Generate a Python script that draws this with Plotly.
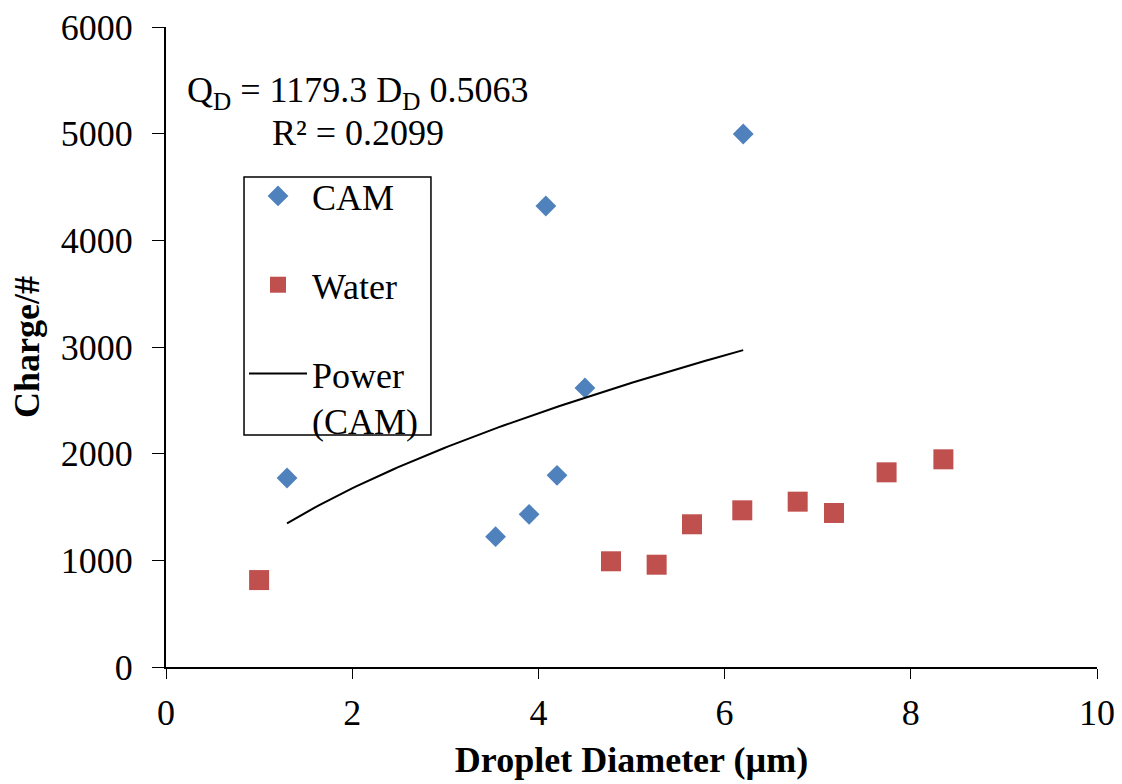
import numpy as np
import plotly.graph_objects as go

cam_x = [1.3, 3.54, 3.9, 4.08, 4.2, 4.5, 6.2]
cam_y = [1772, 1222, 1431, 4322, 1797, 2616, 4997]
water_x = [1.0, 4.78, 5.27, 5.65, 6.19, 6.785, 7.175, 7.74, 8.35]
water_y = [815, 991, 959, 1338, 1469, 1550, 1444, 1825, 1947]

fit_a = 1179.3
fit_b = 0.5063
fit_r2 = 0.2099

x_ticks = [0, 2, 4, 6, 8, 10]
y_ticks = [0, 1000, 2000, 3000, 4000, 5000, 6000]

trend_x = np.linspace(min(cam_x), max(cam_x), 100)
trend_y = fit_a * trend_x ** fit_b

font_family = "Liberation Serif"

fig = go.Figure()
fig.add_trace(go.Scatter(
    x=cam_x, y=cam_y, mode="markers", name="CAM",
    marker=dict(symbol="diamond", size=16, color="#4F81BD"),
    legendgroup="a"))
fig.add_trace(go.Scatter(
    x=water_x, y=water_y, mode="markers", name="Water",
    marker=dict(symbol="square", size=20, color="#C0504D"),
    legendgroup="b"))
fig.add_trace(go.Scatter(
    x=trend_x, y=trend_y, mode="lines", name="Power<br>(CAM)",
    line=dict(color="black", width=2),
    legendgroup="c"))

fig.add_annotation(
    x=0.206, y=0.897, xref="paper", yref="paper", xanchor="center", yanchor="middle",
    text=f"Q<sub>D</sub> = {fit_a} D<sub>D</sub> {fit_b}", showarrow=False,
    font=dict(family=font_family, size=36, color="black"))
fig.add_annotation(
    x=0.206, y=0.834, xref="paper", yref="paper", xanchor="center", yanchor="middle",
    text=f"R² = {fit_r2}", showarrow=False,
    font=dict(family=font_family, size=36, color="black"))

# legend frame
fig.add_shape(type="rect", xref="paper", yref="paper",
              x0=0.0838, x1=0.2846, y0=0.3625, y1=0.7656,
              line=dict(color="black", width=1.5), fillcolor="rgba(0,0,0,0)",
              layer="above")

fig.update_layout(
    width=1122, height=784,
    margin=dict(l=166, r=25, t=27, b=117),
    paper_bgcolor="white", plot_bgcolor="white",
    font=dict(family=font_family, size=36, color="black"),
    showlegend=True,
    legend=dict(
        x=0.0838, y=0.7828, xanchor="left", yanchor="top",
        borderwidth=0, bgcolor="rgba(0,0,0,0)",
        font=dict(family=font_family, size=36, color="black"),
        traceorder="grouped", tracegroupgap=39, itemwidth=58, valign="top"),
    xaxis=dict(
        range=[0, 10], tickvals=x_ticks, showgrid=False, zeroline=False,
        showline=True, linecolor="black", linewidth=2,
        ticks="outside", ticklen=10, tickcolor="black",
        tickfont=dict(family=font_family, size=36),
        ticklabelstandoff=3, automargin=False,
        title=dict(text="<b>Droplet Diameter (µm)</b>", standoff=15,
                   font=dict(family=font_family, size=36))),
    yaxis=dict(
        range=[0, 6000], tickvals=y_ticks, showgrid=False, zeroline=False,
        showline=True, linecolor="black", linewidth=2,
        ticks="outside", ticklen=12, tickcolor="black",
        tickfont=dict(family=font_family, size=36),
        ticklabelstandoff=12, automargin=False,
        title=dict(text="<b>Charge/#</b>", standoff=10,
                   font=dict(family=font_family, size=36))),
)

fig.write_html("out.html")
